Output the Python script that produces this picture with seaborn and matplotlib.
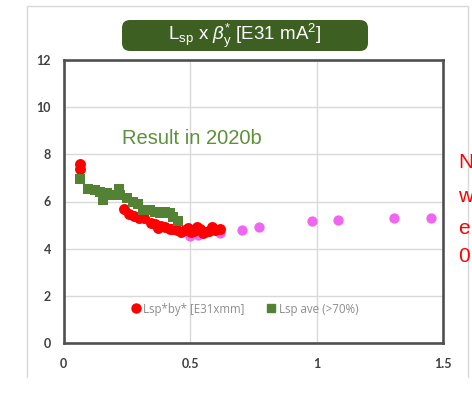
import matplotlib
matplotlib.use("Agg")
import matplotlib.pyplot as plt
from matplotlib.patches import FancyBboxPatch
from matplotlib.lines import Line2D
import seaborn as sns
import pandas as pd

# ---- data ----
red_x = [0.065, 0.065, 0.240, 0.258, 0.280, 0.300, 0.320, 0.345, 0.360, 0.375, 0.385, 0.400,
         0.420, 0.430, 0.450, 0.465, 0.480, 0.493, 0.505, 0.515, 0.528, 0.540, 0.552, 0.560,
         0.575, 0.588, 0.600, 0.619]
red_y = [7.58, 7.37, 5.69, 5.45, 5.40, 5.30, 5.28, 5.10, 5.05, 4.88, 4.95, 4.90,
         4.82, 4.85, 4.78, 4.72, 4.80, 4.86, 4.72, 4.76, 4.90, 4.82, 4.65, 4.70,
         4.75, 4.93, 4.80, 4.83]
mag_x = [0.500, 0.530, 0.619, 0.704, 0.774, 0.982, 1.085, 1.306, 1.453]
mag_y = [4.55, 4.58, 4.65, 4.79, 4.90, 5.17, 5.23, 5.28, 5.31]
grn_x = [0.065, 0.098, 0.125, 0.144, 0.157, 0.171, 0.190, 0.219, 0.223, 0.250,
         0.276, 0.296, 0.315, 0.342, 0.362, 0.381, 0.400, 0.420, 0.434, 0.454]
grn_y = [6.94, 6.55, 6.48, 6.41, 6.06, 6.34, 6.27, 6.55, 6.27, 6.13,
         5.99, 5.89, 5.66, 5.64, 5.56, 5.52, 5.56, 5.50, 5.33, 5.18]
red_label = "Lsp*by* [E31xmm]"
grn_label = "Lsp ave (>70%)"
x_ticks = [0, 0.5, 1, 1.5]
x_ticklabels = ["0", "0.5", "1", "1.5"]
y_ticks = [0, 2, 4, 6, 8, 10, 12]

sns.set_theme(style="white")
plt.rcParams['font.family'] = ['Liberation Sans', 'DejaVu Sans']
plt.rcParams['mathtext.fontset'] = 'custom'
plt.rcParams['mathtext.rm'] = 'Liberation Sans'
plt.rcParams['mathtext.it'] = 'Liberation Sans:italic'

RED = "#ff0000"
MAG = "#f066f0"
GRN = "#548235"

fig = plt.figure(figsize=(4.72, 4.00), dpi=100)
fig.patch.set_facecolor("white")
ax = fig.add_axes([63.5/472, 1-343/400, (443-63.5)/472, (343-60)/400])

df_r = pd.DataFrame({"x": red_x, "y": red_y})
df_m = pd.DataFrame({"x": mag_x, "y": mag_y})
df_g = pd.DataFrame({"x": grn_x, "y": grn_y})

sns.scatterplot(data=df_m, x="x", y="y", ax=ax, color=MAG, marker="o", s=55,
                linewidth=0, zorder=3)
sns.scatterplot(data=df_r, x="x", y="y", ax=ax, color=RED, marker="o", s=62,
                linewidth=0, zorder=4)
sns.scatterplot(data=df_g, x="x", y="y", ax=ax, color=GRN, marker="s", s=50,
                linewidth=0, zorder=5)

ax.set_xlim(0, 1.5)
ax.set_ylim(0, 12)
ax.set_xticks(x_ticks)
ax.set_xticklabels(x_ticklabels)
ax.set_yticks(y_ticks)
ax.set_xlabel("")
ax.set_ylabel("")
ax.grid(True, color="#d9d9d9", linewidth=1.0)
ax.set_axisbelow(True)
for s in ax.spines.values():
    s.set_visible(True)
    s.set_color("#505050")
    s.set_linewidth(1.9)
ax.tick_params(axis="both", length=0, labelsize=9, labelcolor="#404040")
ax.tick_params(axis="y", pad=9)
ax.tick_params(axis="x", pad=11)
for t in ax.get_xticklabels() + ax.get_yticklabels():
    t.set_fontweight("bold")
    t.set_family(["Lato", "DejaVu Sans"])

# legend
handles = [Line2D([], [], marker="o", color=RED, linestyle="", markersize=6.5),
           Line2D([], [], marker="s", color=GRN, linestyle="", markersize=6)]
leg = fig.legend(handles, [red_label, grn_label], ncol=2, frameon=False,
                 loc="center", bbox_to_anchor=(245/472, 1-309/400),
                 prop={"family": ["Open Sans", "DejaVu Sans"], "size": 8.3},
                 handlelength=0.7, handletextpad=0.3, columnspacing=2.0,
                 labelcolor="#8c8c8c")

# "Result in 2020b"
fig.text(192/472, 1-138/400, "Result in 2020b", color="#5b9138", fontsize=14.5,
         ha="center", va="center")

# title box
box = FancyBboxPatch((1.22, 3.49), 2.46, 0.31,
                     boxstyle="round,pad=0,rounding_size=0.08",
                     transform=fig.dpi_scale_trans, facecolor="#3e5f22",
                     edgecolor="none")
fig.patches.append(box)
fig.text(245/472, 1-36/400,
         r"L$_{\mathrm{sp}}$ x $\mathit{\beta}_{\mathrm{y}}^{*}$ [E31 mA$^{2}$]",
         color="white", fontsize=13.5, ha="center", va="center")

# outer light frame (left, top, right)
frame_col = "#d9d9d9"
fig.add_artist(Line2D([26.5/472, 26.5/472], [1-377/400, 1-6/400], color=frame_col,
                      linewidth=1.0, transform=fig.transFigure))
fig.add_artist(Line2D([26.5/472, 468/472], [1-6/400, 1-6/400], color=frame_col,
                      linewidth=1.0, transform=fig.transFigure))
fig.add_artist(Line2D([468/472, 468/472], [1-377/400, 1-6/400], color=frame_col,
                      linewidth=1.0, transform=fig.transFigure))

# red side text
side_lines = ["N", "w", "e", "0"]
side_y = [162, 196, 229, 257]
for ch, yy in zip(side_lines, side_y):
    fig.text(458/472, 1-yy/400, ch, color=RED, fontsize=15, ha="left", va="center")

fig.savefig("out.png", dpi=100)
